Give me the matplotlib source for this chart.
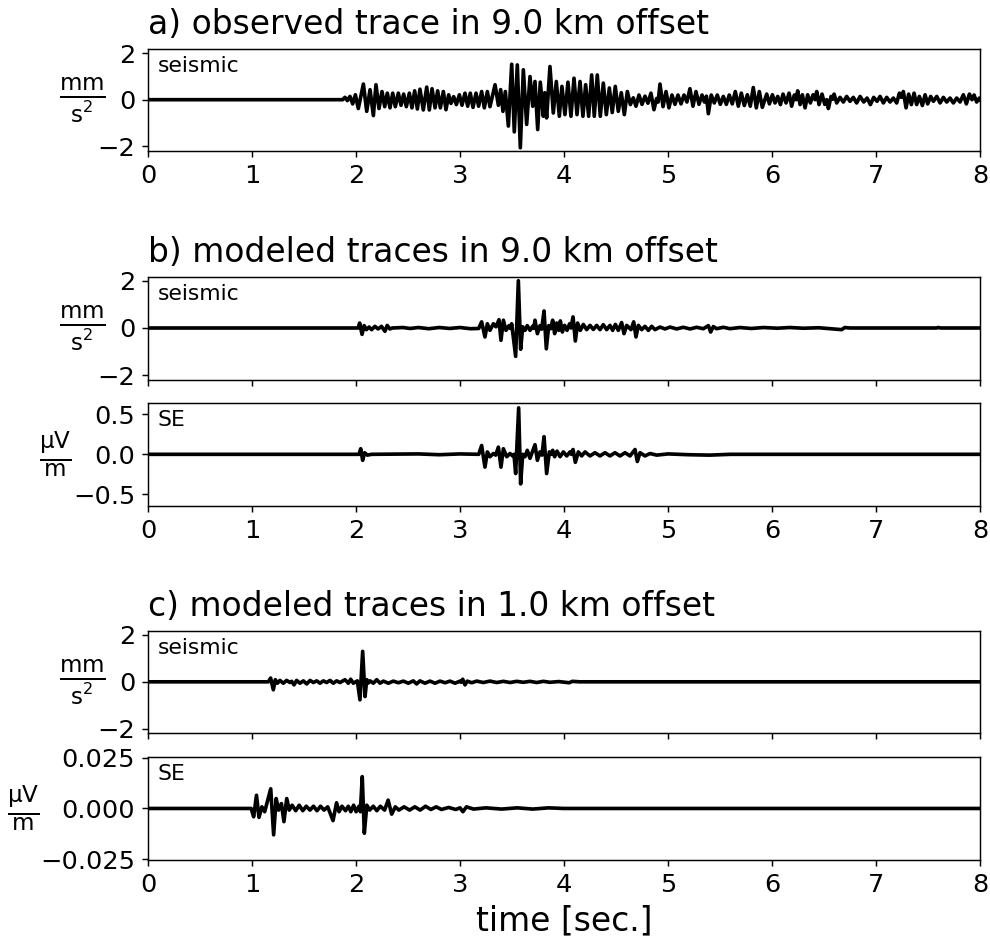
import matplotlib
matplotlib.use("Agg")
import matplotlib.pyplot as plt

# ---------------------------------------------------------------------------
# Trace samples (time in s, amplitude) taken at the turning points of each trace
# ---------------------------------------------------------------------------
obs_t = [0.0, 1.872, 1.894, 1.917, 1.942, 1.968, 1.994, 2.022, 2.071, 2.103, 2.135,
         2.167, 2.192, 2.221, 2.250, 2.276, 2.301, 2.327, 2.353, 2.378, 2.407, 2.433,
         2.458, 2.484, 2.513, 2.538, 2.564, 2.590, 2.615, 2.647, 2.680, 2.705, 2.731,
         2.760, 2.785, 2.811, 2.840, 2.865, 2.891, 2.913, 2.939, 2.965, 2.994, 3.019,
         3.048, 3.074, 3.099, 3.125, 3.154, 3.179, 3.208, 3.234, 3.263, 3.288, 3.337,
         3.369, 3.391, 3.413, 3.436, 3.465, 3.497, 3.522, 3.551, 3.580, 3.609, 3.641,
         3.673, 3.699, 3.721, 3.747, 3.772, 3.801, 3.815, 3.833, 3.865, 3.897, 3.926,
         3.955, 3.980, 4.009, 4.038, 4.067, 4.096, 4.125, 4.154, 4.182, 4.208, 4.237,
         4.266, 4.291, 4.320, 4.349, 4.378, 4.407, 4.436, 4.464, 4.493, 4.522, 4.551,
         4.580, 4.609, 4.638, 4.666, 4.692, 4.721, 4.750, 4.779, 4.807, 4.836, 4.865,
         4.890, 4.905, 4.923, 4.952, 4.981, 5.009, 5.038, 5.067, 5.096, 5.125, 5.154,
         5.182, 5.211, 5.240, 5.269, 5.298, 5.327, 5.350, 5.370, 5.388, 5.416, 5.445,
         5.474, 5.503, 5.532, 5.561, 5.589, 5.618, 5.647, 5.676, 5.705, 5.734, 5.763,
         5.791, 5.820, 5.849, 5.878, 5.907, 5.949, 5.975, 6.004, 6.029, 6.055, 6.081,
         6.106, 6.135, 6.164, 6.189, 6.215, 6.231, 6.247, 6.270, 6.292, 6.318, 6.343,
         6.369, 6.395, 6.414, 6.430, 6.452, 6.481, 6.507, 6.526, 6.542, 6.568, 6.584,
         6.597, 6.622, 6.654, 6.686, 6.718, 6.750, 6.782, 6.814, 6.847, 6.882, 6.914,
         6.946, 6.978, 7.010, 7.039, 7.071, 7.103, 7.135, 7.167, 7.199, 7.225, 7.244,
         7.263, 7.289, 7.314, 7.340, 7.366, 7.391, 7.417, 7.446, 7.472, 7.497, 7.526,
         7.552, 7.584, 7.616, 7.648, 7.680, 7.712, 7.744, 7.776, 7.808, 7.840, 7.869,
         7.898, 7.923, 7.943, 7.968, 7.994, 8.0]
obs_v = [0.0, 0.0, 0.10, -0.04, 0.14, -0.18, 0.21, -0.38, 0.67, -0.50, 0.43,
         -0.68, 0.64, -0.38, 0.35, -0.30, 0.28, -0.35, 0.28, -0.30, 0.28, -0.24,
         0.24, -0.30, 0.28, -0.35, 0.38, -0.40, 0.45, -0.44, 0.54, -0.44, 0.47,
         -0.35, 0.38, -0.35, 0.35, -0.43, 0.21, -0.16, 0.13, -0.21, 0.21, -0.24,
         0.28, -0.28, 0.28, -0.33, 0.28, -0.28, 0.35, -0.35, 0.35, -0.30, 0.64,
         -0.24, 0.43, -0.50, 0.35, -1.13, 1.52, -1.38, 1.49, -2.06, 1.28, -1.06,
         0.99, -0.28, 0.78, -1.28, 0.75, -0.71, 0.30, -0.78, 1.42, -0.57, 0.78,
         -0.71, 0.57, -0.64, 0.75, -0.71, 0.92, -0.64, 0.78, -0.71, 0.64, -0.71,
         1.06, -0.71, 1.06, -0.71, 0.71, -0.64, 0.50, -0.55, 0.57, -0.50, 0.30,
         -0.64, 0.35, -0.21, 0.08, -0.28, 0.20, -0.20, 0.15, -0.15, 0.28, -0.43,
         0.05, -0.10, 0.67, -0.30, 0.35, -0.35, 0.20, -0.20, 0.20, -0.18, 0.20,
         -0.10, 0.47, -0.28, 0.35, -0.20, 0.20, -0.10, 0.15, -0.60, 0.20, -0.14,
         0.20, -0.20, 0.14, -0.20, 0.20, -0.18, 0.35, -0.28, 0.28, -0.25, 0.21,
         -0.28, 0.52, -0.35, 0.35, -0.33, 0.24, -0.18, 0.21, -0.14, 0.14, -0.21,
         0.24, -0.14, 0.28, -0.28, 0.20, 0.00, 0.38, -0.21, 0.21, -0.35, 0.21,
         -0.14, 0.21, 0.00, 0.35, -0.21, 0.24, -0.20, 0.00, -0.38, 0.14, 0.02,
         0.24, -0.14, 0.10, -0.10, 0.14, -0.07, 0.10, -0.14, 0.14, -0.10, 0.07,
         -0.21, 0.10, -0.07, 0.14, -0.14, 0.10, -0.10, 0.07, -0.14, 0.28, 0.10,
         0.35, -0.35, 0.24, -0.21, 0.28, -0.21, 0.14, -0.25, 0.21, -0.18, 0.14,
         -0.07, 0.14, -0.14, 0.10, -0.10, 0.07, -0.14, 0.07, -0.10, 0.21, -0.18,
         0.24, 0.00, 0.20, -0.10, 0.07, 0.0]

far_seis_t = [0.0, 2.020, 2.035, 2.058, 2.078, 2.100, 2.126, 2.150, 2.182, 2.212, 2.245,
              2.278, 2.300, 2.325, 2.350, 2.45, 2.52, 2.60, 2.70, 2.80, 2.90, 3.00,
              3.10, 3.180, 3.208, 3.240, 3.263, 3.288, 3.321, 3.346, 3.375, 3.394, 3.417,
              3.442, 3.471, 3.485, 3.497, 3.535, 3.561, 3.583, 3.603, 3.625, 3.647, 3.673,
              3.700, 3.710, 3.721, 3.744, 3.769, 3.785, 3.808, 3.830, 3.853, 3.872, 3.891,
              3.910, 3.929, 3.949, 3.965, 3.984, 4.006, 4.029, 4.054, 4.067, 4.087, 4.109,
              4.131, 4.157, 4.186, 4.218, 4.250, 4.282, 4.314, 4.346, 4.378, 4.410, 4.442,
              4.468, 4.494, 4.522, 4.554, 4.577, 4.603, 4.644, 4.670, 4.692, 4.715, 4.747,
              4.779, 4.811, 4.843, 4.875, 4.923, 4.971, 5.019, 5.083, 5.147, 5.212, 5.276,
              5.340, 5.388, 5.410, 5.436, 5.468, 5.532, 5.596, 5.692, 5.80, 5.92, 6.05,
              6.17, 6.30, 6.45, 6.67, 6.70, 6.75, 7.58, 7.60, 7.62, 8.0]
far_seis_v = [0.0, 0.0, 0.21, -0.27, 0.10, -0.07, 0.04, -0.07, 0.07, -0.04, 0.07,
              -0.14, 0.11, -0.04, 0.00, 0.02, -0.02, 0.02, -0.03, 0.02, -0.02, 0.02,
              -0.03, -0.02, 0.26, -0.38, 0.18, -0.10, 0.18, 0.05, 0.35, -0.52, 0.33,
              -0.10, 0.10, -0.02, 0.18, -1.20, 2.00, -0.90, 0.05, -0.10, 0.10, -0.10,
              0.08, -0.02, 0.33, -0.24, 0.10, -0.05, 0.72, -0.88, 0.10, -0.03, 0.33,
              -0.24, 0.21, -0.10, 0.30, -0.17, 0.11, -0.10, 0.18, 0.00, 0.47, -0.55,
              0.21, -0.10, 0.15, -0.07, 0.11, -0.06, 0.11, -0.07, 0.14, -0.07, 0.11,
              -0.10, 0.15, -0.10, 0.23, -0.24, 0.11, -0.07, 0.26, -0.38, 0.11, -0.07,
              0.07, -0.10, 0.07, -0.07, 0.04, -0.04, 0.04, -0.04, 0.03, -0.04, 0.03,
              -0.03, 0.10, -0.17, 0.06, -0.03, 0.03, -0.03, 0.02, -0.02, 0.02, -0.01,
              0.02, -0.01, 0.01, -0.07, 0.02, 0.0, 0.0, 0.02, 0.0, 0.0]

far_se_t = [0.0, 2.030, 2.045, 2.064, 2.083, 2.109, 2.15, 2.60, 2.80, 3.00, 3.18,
            3.208, 3.240, 3.263, 3.288, 3.321, 3.343, 3.369, 3.394, 3.417, 3.449, 3.481,
            3.506, 3.519, 3.535, 3.564, 3.583, 3.603, 3.625, 3.647, 3.673, 3.721, 3.744,
            3.769, 3.788, 3.808, 3.833, 3.859, 3.878, 3.891, 3.910, 3.933, 3.962, 3.994,
            4.026, 4.058, 4.071, 4.087, 4.109, 4.138, 4.170, 4.202, 4.250, 4.298, 4.346,
            4.394, 4.442, 4.490, 4.538, 4.587, 4.635, 4.683, 4.705, 4.731, 4.779, 4.827,
            4.891, 5.0, 5.2, 5.4, 5.6, 8.0]
far_se_v = [0.0, 0.0, 0.07, -0.075, 0.02, -0.01, 0.0, 0.005, -0.005, 0.005, 0.0,
            0.11, -0.16, 0.03, -0.03, 0.01, -0.01, 0.09, -0.16, 0.07, -0.03, 0.01,
            -0.02, 0.00, -0.24, 0.58, -0.37, 0.00, -0.03, 0.05, -0.05, 0.12, -0.075,
            0.03, -0.01, 0.22, -0.24, 0.03, 0.00, 0.05, -0.03, 0.04, -0.03, 0.03,
            -0.02, 0.03, 0.00, 0.06, -0.10, 0.03, -0.02, 0.03, -0.02, 0.02, -0.02,
            0.02, -0.02, 0.02, -0.02, 0.02, -0.02, 0.06, -0.09, 0.02, -0.02, 0.01,
            -0.01, 0.005, -0.005, -0.01, 0.0, 0.0]

near_seis_t = [0.0, 1.157, 1.179, 1.205, 1.224, 1.244, 1.269, 1.301, 1.333, 1.365, 1.381,
               1.404, 1.429, 1.461, 1.494, 1.526, 1.558, 1.590, 1.622, 1.654, 1.686, 1.718,
               1.750, 1.782, 1.814, 1.846, 1.894, 1.926, 1.949, 1.974, 2.013, 2.038, 2.064,
               2.087, 2.103, 2.119, 2.135, 2.167, 2.199, 2.231, 2.263, 2.311, 2.359, 2.407,
               2.455, 2.503, 2.551, 2.583, 2.615, 2.663, 2.711, 2.760, 2.808, 2.856, 2.904,
               2.952, 3.000, 3.010, 3.026, 3.048, 3.070, 3.112, 3.160, 3.224, 3.288, 3.353,
               3.417, 3.481, 3.545, 3.609, 3.673, 3.737, 3.801, 3.865, 3.95, 4.05, 4.08,
               4.15, 8.0]
near_seis_v = [0.0, 0.0, 0.16, -0.34, 0.09, -0.06, 0.06, -0.06, 0.06, -0.03, 0.02,
               -0.13, 0.06, -0.06, 0.04, -0.09, 0.06, -0.03, 0.04, -0.06, 0.04, -0.03,
               0.06, -0.06, 0.04, -0.03, 0.09, -0.06, 0.11, -0.06, 0.04, -0.77, 1.30,
               -0.63, 0.09, -0.05, 0.04, -0.06, 0.09, -0.06, 0.03, -0.06, 0.03, -0.04,
               0.03, -0.06, 0.04, -0.09, 0.04, -0.06, 0.03, -0.06, 0.03, -0.04, 0.03,
               -0.06, 0.03, -0.02, 0.11, -0.13, 0.03, -0.04, 0.03, -0.03, 0.03, -0.03,
               0.02, -0.03, 0.02, -0.02, 0.02, -0.03, 0.02, -0.02, 0.01, -0.04, 0.02,
               0.0, 0.0]

near_se_t = [0.0, 0.992, 1.016, 1.043, 1.067, 1.095, 1.122, 1.180, 1.208, 1.232, 1.256,
             1.283, 1.307, 1.334, 1.358, 1.386, 1.420, 1.454, 1.488, 1.522, 1.557, 1.591,
             1.625, 1.659, 1.693, 1.728, 1.779, 1.813, 1.837, 1.865, 1.899, 1.926, 1.950,
             1.977, 2.001, 2.029, 2.042, 2.060, 2.080, 2.104, 2.131, 2.166, 2.200, 2.234,
             2.275, 2.309, 2.343, 2.378, 2.412, 2.463, 2.515, 2.566, 2.617, 2.668, 2.720,
             2.771, 2.822, 2.891, 2.959, 3.000, 3.028, 3.062, 3.130, 3.25, 3.40, 3.55,
             3.70, 3.85, 4.0, 8.0]
near_se_v = [0.0, 0.0, -0.0041, 0.0065, -0.0044, 0.0008, -0.0016, 0.0097, -0.0130, 0.0049, -0.0008,
             0.0024, -0.0065, 0.0049, -0.0008, 0.0016, -0.0011, 0.0016, -0.0011, 0.0011, -0.0008, 0.0011,
             -0.0011, 0.0011, -0.0008, 0.0008, -0.0060, 0.0028, -0.0016, 0.0011, -0.0011, 0.0011, -0.0016,
             0.0016, -0.0016, 0.0011, -0.0016, 0.0157, -0.0122, 0.0016, -0.0008, 0.0011, -0.0011, 0.0011,
             -0.0008, 0.0041, -0.0028, 0.0008, -0.0008, 0.0008, -0.0008, 0.0008, -0.0008, 0.0011, -0.0005,
             0.0008, -0.0005, 0.0005, -0.0005, 0.0003, -0.0016, 0.0008, -0.0003, 0.0003, -0.0003, 0.0003,
             -0.0003, 0.0003, 0.0, 0.0]

titles = ["a) observed trace in 9.0 km offset",
          "b) modeled traces in 9.0 km offset",
          "c) modeled traces in 1.0 km offset"]
seis_unit = r"$\frac{\mathrm{mm}}{\mathrm{s}^2}$"
se_unit = r"$\frac{\mathrm{\mu V}}{\mathrm{m}}$"
time_ticks = [0, 1, 2, 3, 4, 5, 6, 7, 8]

# ---------------------------------------------------------------------------
DPI = 131.5
fig = plt.figure(figsize=(990 / DPI, 938 / DPI), dpi=DPI)

LEFT, WIDTH = 0.1495, 0.8404
panels = [
    # rect, times, values, tag, unit, ylim, yticks, show x labels, title, ylabel x
    ([LEFT, 0.8390, WIDTH, 0.1087], obs_t, obs_v, "seismic", seis_unit,
     (-2.2, 2.17), [-2, 0, 2], True, titles[0], -0.079),
    ([LEFT, 0.5949, WIDTH, 0.1101], far_seis_t, far_seis_v, "seismic", seis_unit,
     (-2.2, 2.17), [-2, 0, 2], False, titles[1], -0.079),
    ([LEFT, 0.4606, WIDTH, 0.1101], far_se_t, far_se_v, "SE", se_unit,
     (-0.645, 0.645), [-0.5, 0.0, 0.5], True, None, -0.111),
    ([LEFT, 0.2182, WIDTH, 0.1091], near_seis_t, near_seis_v, "seismic", seis_unit,
     (-2.2, 2.17), [-2, 0, 2], False, titles[2], -0.079),
    ([LEFT, 0.0832, WIDTH, 0.1098], near_se_t, near_se_v, "SE", se_unit,
     (-0.0254, 0.0254), [-0.025, 0.0, 0.025], True, None, -0.150),
]

axes = []
for rect, t, v, tag, unit, ylim, yticks, xlab, title, ylx in panels:
    ax = fig.add_axes(rect)
    ax.plot(t, v, color="black", lw=2.0, solid_joinstyle="round")
    ax.set_xlim(0, 8)
    ax.set_ylim(*ylim)
    ax.set_xticks(time_ticks)
    ax.set_yticks(yticks)
    ax.tick_params(labelsize=14, labelbottom=xlab)
    ax.text(0.012, 0.93, tag, transform=ax.transAxes, ha="left", va="top",
            fontsize=12)
    ax.set_ylabel(unit, fontsize=18, rotation=0, ha="center", va="center")
    ax.yaxis.set_label_coords(ylx, 0.5)
    if title:
        ax.set_title(title, loc="left", fontsize=18, pad=8)
    axes.append(ax)

axes[-1].set_xlabel("time [sec.]", fontsize=18)

fig.savefig("out.png", dpi=DPI)
